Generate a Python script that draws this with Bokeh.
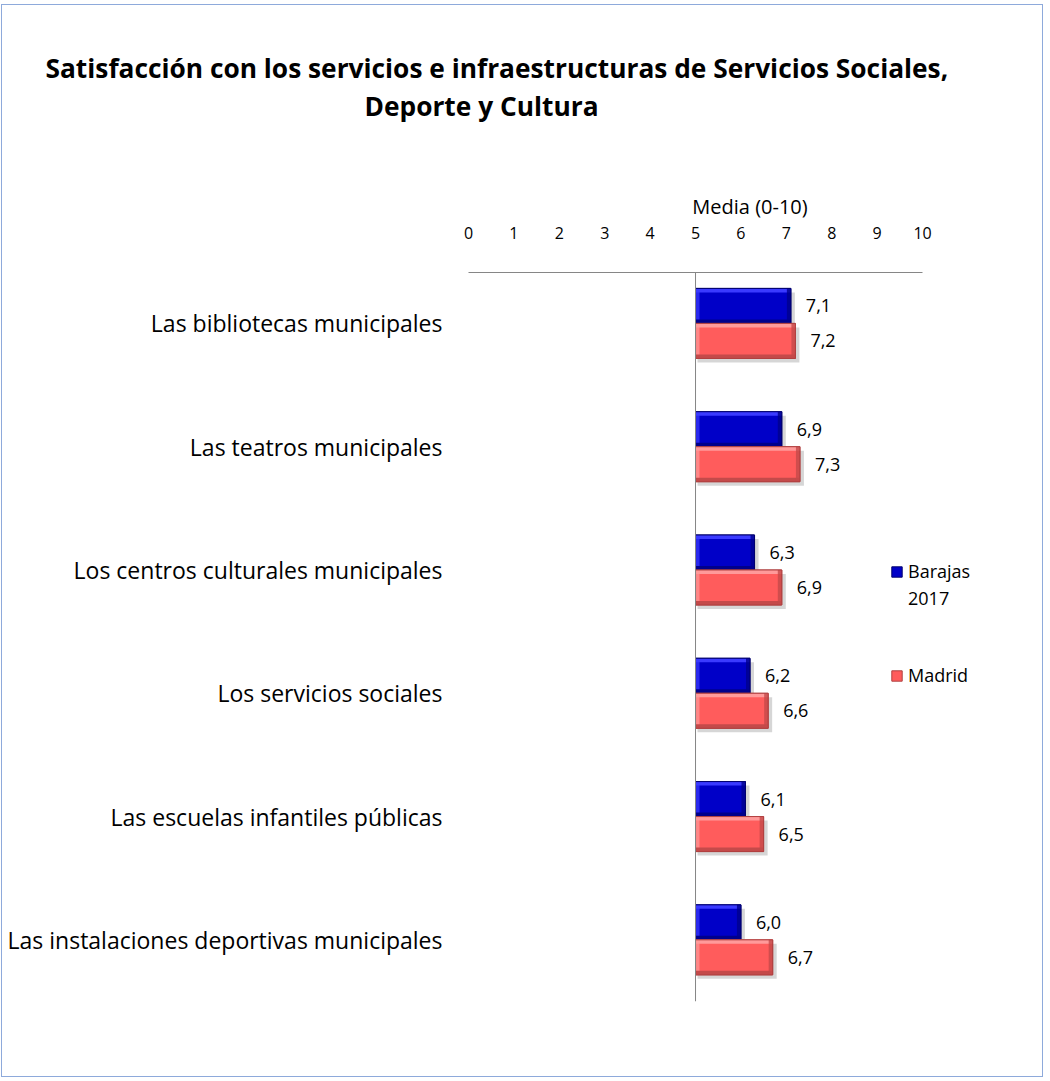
from bokeh.plotting import figure
from bokeh.models import Range1d, FixedTicker, Span, Legend, LegendItem, ColumnDataSource, Title
from bokeh.embed import file_html
from bokeh.resources import INLINE
from bokeh.core.properties import value

# ---------------- data ----------------
categories = [
    "Las bibliotecas municipales",
    "Las teatros municipales",
    "Los centros culturales municipales",
    "Los servicios sociales",
    "Las escuelas infantiles públicas",
    "Las instalaciones deportivas municipales",
]
barajas = [7.1, 6.9, 6.3, 6.2, 6.1, 6.0]
madrid = [7.2, 7.3, 6.9, 6.6, 6.5, 6.7]
legend_barajas = ["Barajas", "2017"]
legend_madrid = "Madrid"
x_ticks = list(range(0, 11))
axis_title = "Media (0-10)"
title_line1 = "Satisfacción con los servicios e infraestructuras de Servicios Sociales,"
title_line2 = "Deporte y  Cultura"
baseline = 5

# ---------------- layout (pixels) ----------------
W, H = 1042, 1073
FRAME_L = 466
FRAME_T, FRAME_B = 267, 996
AX_PX = 454.0                 # pixels for 0..10
X_MAX = 12.4
FRAME_R = FRAME_L + int(round(AX_PX * X_MAX / 10))
Y_TOP, Y_BOT = -0.413, 5.5
PX_X = AX_PX / 10.0
PX_Y = (FRAME_B - FRAME_T) / (Y_BOT - Y_TOP)
FONT = "Open Sans"

def dx(px):
    return px / PX_X

def dy(px):
    return px / PX_Y

p = figure(width=W, height=H, x_range=Range1d(0, X_MAX), y_range=Range1d(Y_BOT, Y_TOP),
           output_backend="svg", toolbar_location=None, x_axis_location="above",
           min_border_left=FRAME_L, min_border_right=W - FRAME_R,
           min_border_top=FRAME_T, min_border_bottom=H - FRAME_B)
p.styles = {"border": "1px solid #8eaadb", "margin": "4px 0 0 1px"}
p.outline_line_color = None
p.xgrid.visible = False
p.ygrid.visible = False
p.background_fill_color = "white"
p.border_fill_color = "white"

# title (two lines) + spacer between title and axis
title_kw = dict(text_font=FONT, text_font_size="26.3px", text_font_style="bold",
                text_color="#000000")
p.title = Title(text=title_line1, align="left", offset=-423, standoff=0, **title_kw)
p.add_layout(Title(text=" ", standoff=53, text_font_size="10px"), "above")
p.add_layout(Title(text=title_line2, align="left", offset=-104, standoff=0, **title_kw), "above")

# x axis (top)
xa = p.xaxis[0]
xa.ticker = FixedTicker(ticks=x_ticks)
xa.bounds = (0, 10)
xa.minor_tick_line_color = None
xa.major_tick_line_color = None
xa.major_tick_out = 0
xa.major_tick_in = 0
xa.axis_line_color = "#868686"
xa.axis_line_width = 1
xa.major_label_standoff = 34
xa.major_label_text_font = FONT
xa.major_label_text_font_size = "16px"
xa.major_label_text_color = "#000000"
xa.axis_label = axis_title
xa.axis_label_text_font = FONT
xa.axis_label_text_font_size = "20px"
xa.axis_label_text_font_style = "normal"
xa.axis_label_text_color = "#000000"
xa.axis_label_standoff = 4

# y axis (categories)
ya = p.yaxis[0]
ya.ticker = FixedTicker(ticks=list(range(len(categories))))
ya.major_label_overrides = {i: c for i, c in enumerate(categories)}
ya.axis_line_color = None
ya.major_tick_line_color = None
ya.minor_tick_line_color = None
ya.major_tick_out = 0
ya.major_tick_in = 0
ya.major_label_standoff = 26
ya.major_label_text_font = FONT
ya.major_label_text_font_size = "23px"
ya.major_label_text_color = "#000000"

p.add_layout(Span(location=baseline, dimension="height", line_color="#868686", line_width=1))

# ---------------- bars ----------------
BAR = dy(35)
E_X, E_Y = dx(4), dy(4)

styles = [
    dict(main="#0000c8", light="#3a3aff", dark="#00008c", line="#00006e", off=-1),
    dict(main="#ff5c5c", light="#ff9a9a", dark="#c44a4a", line="#b04040", off=0),
]
main_renderers = []
for vals, st in zip([barajas, madrid], styles):
    idx = list(range(len(vals)))
    y0 = [i + st["off"] * BAR for i in idx]
    y1 = [v + BAR for v in y0]
    src = ColumnDataSource(dict(
        left=[baseline] * len(vals), right=vals, y0=y0, y1=y1,
        sl=[baseline + dx(2)] * len(vals), sr=[v + dx(4) for v in vals],
        sy0=[v + dy(4) for v in y0], sy1=[v + dy(4) for v in y1],
        ty1=[v + E_Y for v in y0], by0=[v - E_Y for v in y1],
        lr=[baseline + E_X] * len(vals), rl=[v - E_X for v in vals],
        yc=[(a + b) / 2 for a, b in zip(y0, y1)],
        lab=[f"{v:.1f}".replace(".", ",") for v in vals],
    ))
    p.quad(left="sl", right="sr", top="sy0", bottom="sy1", source=src,
           fill_color="#000000", fill_alpha=0.16, line_color=None)
    r = p.quad(left="left", right="right", top="y0", bottom="y1", source=src,
               fill_color=st["main"], line_color=st["line"], line_width=1)
    main_renderers.append(r)
    p.quad(left="left", right="right", top="y0", bottom="ty1", source=src,
           fill_color=st["light"], line_color=None)
    p.quad(left="left", right="lr", top="y0", bottom="y1", source=src,
           fill_color=st["light"], fill_alpha=0.7, line_color=None)
    p.quad(left="left", right="right", top="by0", bottom="y1", source=src,
           fill_color=st["dark"], line_color=None)
    p.quad(left="rl", right="right", top="y0", bottom="y1", source=src,
           fill_color=st["dark"], fill_alpha=0.8, line_color=None)
    p.quad(left="left", right="right", top="y0", bottom="y1", source=src,
           fill_color=None, line_color=st["line"], line_width=1)
    p.text(x="right", y="yc", text="lab", source=src, x_offset=15,
           text_align="left", text_baseline="middle", text_font=value(FONT),
           text_font_size="18px", text_color="#000000")

# ---------------- legend ----------------
blank = p.quad(left=[], right=[], top=[], bottom=[], fill_alpha=0, line_alpha=0)
leg_kw = dict(orientation="vertical", background_fill_alpha=0, border_line_color=None,
              label_text_font=FONT, label_text_font_size="18px", label_text_color="#000000",
              glyph_width=13, glyph_height=13, label_standoff=5, padding=0, margin=0)
legend_a = Legend(items=[LegendItem(label=legend_barajas[0], renderers=[main_renderers[0]]),
                         LegendItem(label=legend_barajas[1], renderers=[blank])],
                  location=(422, 391), spacing=3, **leg_kw)
legend_b = Legend(items=[LegendItem(label=legend_madrid, renderers=[main_renderers[1]])],
                  location=(422, 314), spacing=3, **leg_kw)
p.add_layout(legend_a)
p.add_layout(legend_b)

open("out.html", "w").write(file_html(p, INLINE))
